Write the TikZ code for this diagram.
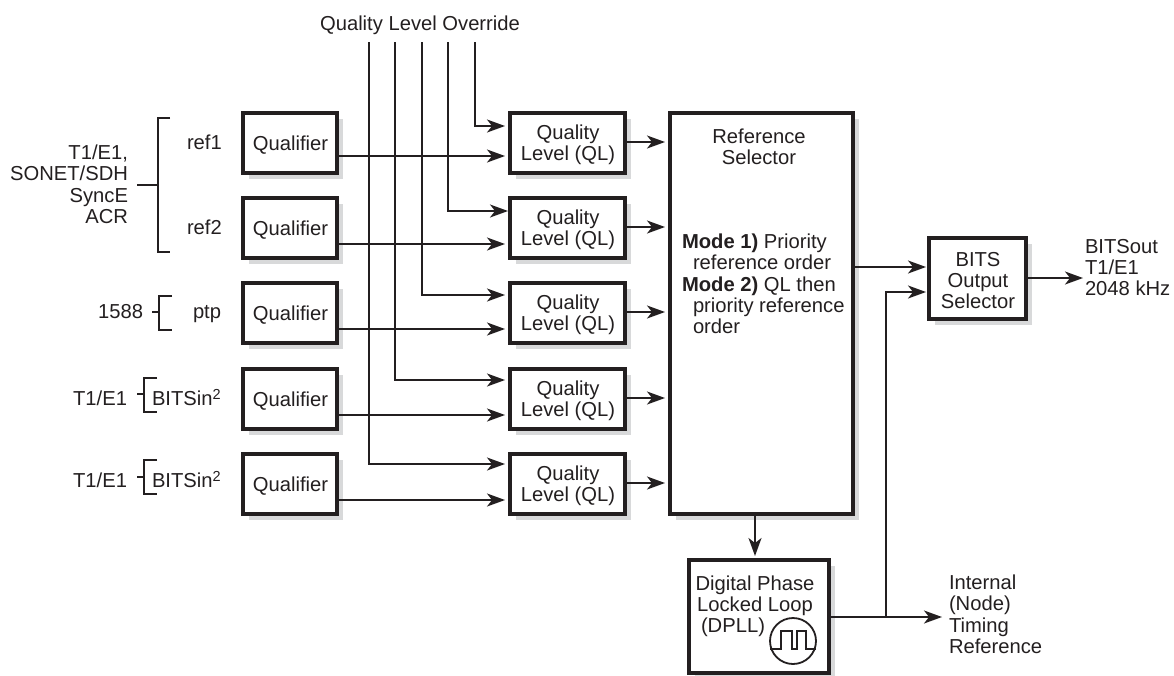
\documentclass[tikz,border=0pt]{standalone}
\usepackage{fontspec}
\setmainfont{Liberation Sans}
\usetikzlibrary{arrows.meta}
\definecolor{ink}{HTML}{231F20}
\definecolor{shadowgray}{HTML}{D8D9DA}
\tikzset{
  x=1pt,y=-1pt,
  every node/.style={font=\fontsize{20.2}{21.3}\selectfont,text=ink,inner sep=0pt,outer sep=0pt},
  box/.style={draw=ink,line width=3.2pt,fill=white,anchor=north west},
  ln/.style={draw=ink,line width=1.6pt},
  arr/.style={ln,-{Stealth[length=18pt,width=13pt,inset=5pt]}},
}
\newcommand{\shbox}[6]{%
  \fill[shadowgray] (#2+6,#3+6) rectangle (#4+6,#5+6);
  \node[box,minimum width=#4-#2,minimum height=#5-#3] (#1) at (#2,#3) {};
  \node[align=center] (#1t) at ([yshift=-2pt,xshift=0.5pt]#1.center) {#6};
}
\newcommand{\suptwo}{\raisebox{6pt}{\fontsize{14.5}{14.5}\selectfont 2}}
\begin{document}
\begin{tikzpicture}
\useasboundingbox (0,0) rectangle (1174,675);
\coordinate (v1) at (369,42);
\coordinate (v2) at (395,42);
\coordinate (v3) at (422,42);
\coordinate (v4) at (448,42);
\coordinate (v5) at (475,42);
\node (qlo) at (420,25) {Quality Level Override};
% boxes
\foreach \n/\y in {1/113,2/198,3/283,4/369,5/454}{
  \shbox{q\n}{243}{\y}{337}{\y+60}{Qualifier}
  \shbox{l\n}{510}{\y}{625}{\y+60}{Quality\\Level (QL)}
}
\shbox{sel}{670}{113}{853}{514}{}
\shbox{bits}{929}{238}{1026}{319}{BITS\\Output\\Selector}
\shbox{dpll}{689}{560}{829}{673}{}
% selector text
\node[align=center] (st) at (759,147) {Reference\\Selector};
\node[align=left,anchor=north west] (m) at (682,234) {\textbf{Mode 1)} Priority\\\hspace*{11pt}reference order\\\textbf{Mode 2)} QL then\\\hspace*{11pt}priority reference\\\hspace*{11pt}order};
% dpll text
\node[align=center] (dt1) at (755,596) {Digital Phase\\Locked Loop};
\node[anchor=west] (dt2) at (701,627) {(DPLL)};
\node[circle,draw=ink,line width=1.8pt,minimum size=46pt] (clk) at (793,641) {};
\draw[ink,line width=1.2pt] (clk.west) ++(0,8) -- ++(11,0) -- ++(0,-18) -- ++(11,0) -- ++(0,18) -- ++(5,0) -- ++(0,-18) -- ++(9,0) -- ++(0,18) -- ++(10,0);
% override lines
\draw[arr] (v1) |- ([xshift=-5pt]l5.west |- 0,464);
\draw[arr] (v2) |- ([xshift=-5pt]l4.west |- 0,380);
\draw[arr] (v3) |- ([xshift=-5pt]l3.west |- 0,295);
\draw[arr] (v4) |- ([xshift=-2pt]l2.west |- 0,211);
\draw[arr] (v5) |- ([xshift=-5pt]l1.west |- 0,126);
% qualifier to QL
\draw[arr] (q1.east |- 0,156) -- ([xshift=-5pt]l1.west |- 0,156);
\draw[arr] (q2.east |- 0,244) -- ([xshift=-5pt]l2.west |- 0,244);
\draw[arr] (q3.east |- 0,329) -- ([xshift=-5pt]l3.west |- 0,329);
\draw[arr] (q4.east |- 0,415) -- ([xshift=-5pt]l4.west |- 0,415);
\draw[arr] (q5.east |- 0,500) -- ([xshift=-5pt]l5.west |- 0,500);
% QL to selector
\draw[arr] (l1.east |- 0,142) -- ([xshift=-5pt]sel.west |- 0,142);
\draw[arr] (l2.east |- 0,227) -- ([xshift=-5pt]sel.west |- 0,227);
\draw[arr] (l3.east |- 0,312) -- ([xshift=-5pt]sel.west |- 0,312);
\draw[arr] (l4.east |- 0,398) -- ([xshift=-5pt]sel.west |- 0,398);
\draw[arr] (l5.east |- 0,483) -- ([xshift=-5pt]sel.west |- 0,483);
% selector etc
\draw[arr] (sel.south -| 755,0) -- ([yshift=4pt]dpll.north -| 755,0);
\draw[arr] (sel.east |- 0,267) -- ([xshift=-3pt]bits.west |- 0,267);
\coordinate (tr) at (942,617);
\draw[arr] (dpll.east |- 0,617) -- (tr);
\coordinate (j) at (886,617);
\draw[arr] (j) |- ([xshift=-3pt]bits.west |- 0,292);
\node[anchor=north west,align=left] (itr) at (949,575) {Internal\\(Node)\\Timing\\Reference};
\coordinate (bo) at (1083,278);
\draw[arr] (bits.east |- bo) -- (bo);
\node[anchor=north west,align=left] (bot) at (1085,239) {BITSout\\T1/E1\\2048 kHz};
% left labels
\node[anchor=north east,align=right] (tl) at (128,145) {T1/E1,\\SONET/SDH\\SyncE\\ACR};
\node[anchor=west] (r1) at (187,142) {ref1};
\node[anchor=west] (r2) at (187,227) {ref2};
\node[anchor=west] (ptp) at (193,314) {ptp};
\node[anchor=west] (b4) at (152,398) {BITSin\suptwo};
\node[anchor=west] (b5) at (152,480) {BITSin\suptwo};
\node[anchor=east] (s3) at (143,312) {1588};
\node[anchor=east] (t4) at (127,398) {T1/E1};
\node[anchor=east] (t5) at (127,480) {T1/E1};
% brackets
\draw[ln] (170,118) -| (158,252) -- (170,252);
\draw[ln] (137,185) -- (158,185);
\draw[ln] (172,296) -| (159,330) -- (172,330);
\draw[ln] (152,312) -- (159,312);
\draw[ln] (157,378) -| (144,412) -- (157,412);
\draw[ln] (137,394) -- (144,394);
\draw[ln] (157,460) -| (144,494) -- (157,494);
\draw[ln] (137,477) -- (144,477);
\end{tikzpicture}
\end{document}
